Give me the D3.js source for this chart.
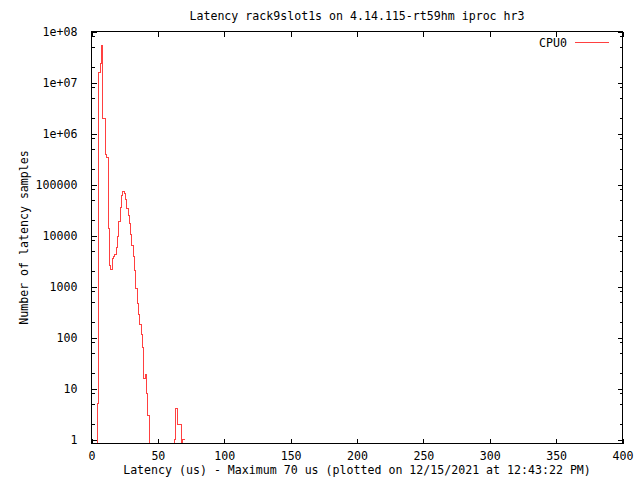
<!DOCTYPE html>
<html>
<head>
<meta charset="utf-8">
<script src="https://cdn.jsdelivr.net/npm/d3@7"></script>
<style>
  html, body { margin: 0; padding: 0; background: #fff; }
  svg text { font-family: "DejaVu Sans Mono", "Liberation Mono", monospace; font-size: 11.6px; fill: #000; }
</style>
</head>
<body>
<svg id="chart" width="640" height="480"></svg>
<script>
// ---- data ----
const titleText = "Latency rack9slot1s on 4.14.115-rt59hm iproc hr3";
const xLabelText = "Latency (us) - Maximum 70 us (plotted on 12/15/2021 at 12:43:22 PM)";
const yLabelText = "Number of latency samples";
const seriesName = "CPU0";

const latencyUs = [
  0, 1, 2, 3, 4, 5, 6, 7, 8, 9,
  10, 11, 12, 13, 14, 15, 16, 17, 18, 19,
  20, 21, 22, 23, 24, 25, 26, 27, 28, 29,
  30, 31, 32, 33, 34, 35, 36, 37, 38, 39,
  40, 41, 42, 43, 44, 45, 46, 47, 48, 49,
  50, 51, 52, 53, 54, 55, 56, 57, 58, 59,
  60, 61, 62, 63, 64, 65, 66, 67, 68, 69,
  70
];
const cpu0Samples = [
  0, 0, 0, 0, 0, 5, 15500000, 24000000, 53000000, 2000000,
  2000000, 380000, 335000, 13700, 2600, 2200, 3500, 3900, 4300, 5700,
  9500, 19000, 36000, 60000, 74000, 68000, 50000, 34000, 25000, 17000,
  10300, 6300, 3800, 2050, 925, 470, 285, 182, 117, 64,
  16, 19, 8, 3, 0, 0, 0, 0, 0, 0,
  0, 0, 0, 0, 0, 0, 0, 0, 0, 0,
  0, 0, 0, 1, 4, 2, 2, 2, 0, 1,
  1
];

const xTickValues = [0, 50, 100, 150, 200, 250, 300, 350, 400];
const yTickValues = [1, 10, 100, 1000, 10000, 100000, 1e6, 1e7, 1e8];
const yTickLabels = ["1", "10", "100", "1000", "10000", "100000", "1e+06", "1e+07", "1e+08"];
const yMinorFactors = [2, 5, 8];

// ---- layout ----
const plotLeft = 91.5, plotRight = 622.5, plotTop = 31.5, plotBottom = 443.5;
const lineColor = "#ff4040";

const svg = d3.select("#chart");

const x = d3.scaleLinear().domain([0, 400]).range([plotLeft, plotRight]);
const y = d3.scaleLog().domain([1, 1e8]).range([439.5, plotTop]);
const yv = v => v > 0 ? y(v) : plotBottom;

// clip
svg.append("defs").append("clipPath").attr("id", "clip")
  .append("rect").attr("x", plotLeft).attr("y", plotTop)
  .attr("width", plotRight - plotLeft).attr("height", plotBottom - plotTop);

// histeps path: each bin is a horizontal step centered on its latency value
const stepPts = [];
latencyUs.forEach((lat, i) => {
  stepPts.push([lat - 0.5, cpu0Samples[i]]);
  stepPts.push([lat + 0.5, cpu0Samples[i]]);
});
const line = d3.line().x(d => x(d[0])).y(d => yv(d[1]));
svg.append("path")
  .attr("clip-path", "url(#clip)")
  .attr("d", line(stepPts))
  .attr("fill", "none")
  .attr("stroke", lineColor)
  .attr("stroke-width", 1)
  .attr("shape-rendering", "crispEdges");

// axes with d3 axis generators (ticks inward, mirrored)
const majorLen = 5, minorLen = 3;
const axStyle = g => {
  g.select(".domain").remove();
  g.selectAll(".tick line").attr("stroke", "#000").attr("shape-rendering", "crispEdges");
};

// bottom
svg.append("g").attr("transform", `translate(0,${plotBottom})`)
  .call(d3.axisBottom(x).tickValues(xTickValues).tickSizeInner(-majorLen).tickSizeOuter(0).tickPadding(11).tickFormat(d3.format("d")))
  .call(axStyle)
  .call(g => g.selectAll("text").attr("font-family", null).attr("font-size", null).attr("dy", "0.45em"));
// top mirror
svg.append("g").attr("transform", `translate(0,${plotTop})`)
  .call(d3.axisTop(x).tickValues(xTickValues).tickSizeInner(-majorLen).tickSizeOuter(0).tickFormat(""))
  .call(axStyle);

// left
svg.append("g").attr("transform", `translate(${plotLeft},0)`)
  .call(d3.axisLeft(y).tickValues(yTickValues).tickSizeInner(-majorLen).tickSizeOuter(0).tickPadding(14)
    .tickFormat((d, i) => yTickLabels[i]))
  .call(axStyle)
  .call(g => g.selectAll("text").attr("font-family", null).attr("font-size", null));
// right mirror
svg.append("g").attr("transform", `translate(${plotRight},0)`)
  .call(d3.axisRight(y).tickValues(yTickValues).tickSizeInner(-majorLen).tickSizeOuter(0).tickFormat(""))
  .call(axStyle);

// minor ticks
const minorVals = [];
yTickValues.slice(0, -1).forEach(base => yMinorFactors.forEach(f => minorVals.push(base * f)));
svg.append("g").attr("transform", `translate(${plotLeft},0)`)
  .call(d3.axisLeft(y).tickValues(minorVals).tickSizeInner(-minorLen).tickSizeOuter(0).tickFormat(""))
  .call(axStyle);
svg.append("g").attr("transform", `translate(${plotRight},0)`)
  .call(d3.axisRight(y).tickValues(minorVals).tickSizeInner(-minorLen).tickSizeOuter(0).tickFormat(""))
  .call(axStyle);

// border
svg.append("rect")
  .attr("x", plotLeft).attr("y", plotTop)
  .attr("width", plotRight - plotLeft).attr("height", plotBottom - plotTop)
  .attr("fill", "none").attr("stroke", "#000").attr("stroke-width", 1)
  .attr("shape-rendering", "crispEdges");

// title
svg.append("text")
  .attr("x", (plotLeft + plotRight) / 2).attr("y", 20)
  .attr("text-anchor", "middle").text(titleText);

// x label
svg.append("text")
  .attr("x", (plotLeft + plotRight) / 2).attr("y", 474)
  .attr("text-anchor", "middle").text(xLabelText);

// y label
svg.append("text")
  .attr("transform", `translate(28,${(plotTop + plotBottom) / 2}) rotate(-90)`)
  .attr("text-anchor", "middle").text(yLabelText);

// legend
const legY = 42.5;
svg.append("text")
  .attr("x", 567).attr("y", legY).attr("dy", "0.35em")
  .attr("text-anchor", "end").text(seriesName);
svg.append("line")
  .attr("x1", 575).attr("x2", 609).attr("y1", legY).attr("y2", legY)
  .attr("stroke", lineColor).attr("stroke-width", 1)
  .attr("shape-rendering", "crispEdges");
</script>
</body>
</html>
